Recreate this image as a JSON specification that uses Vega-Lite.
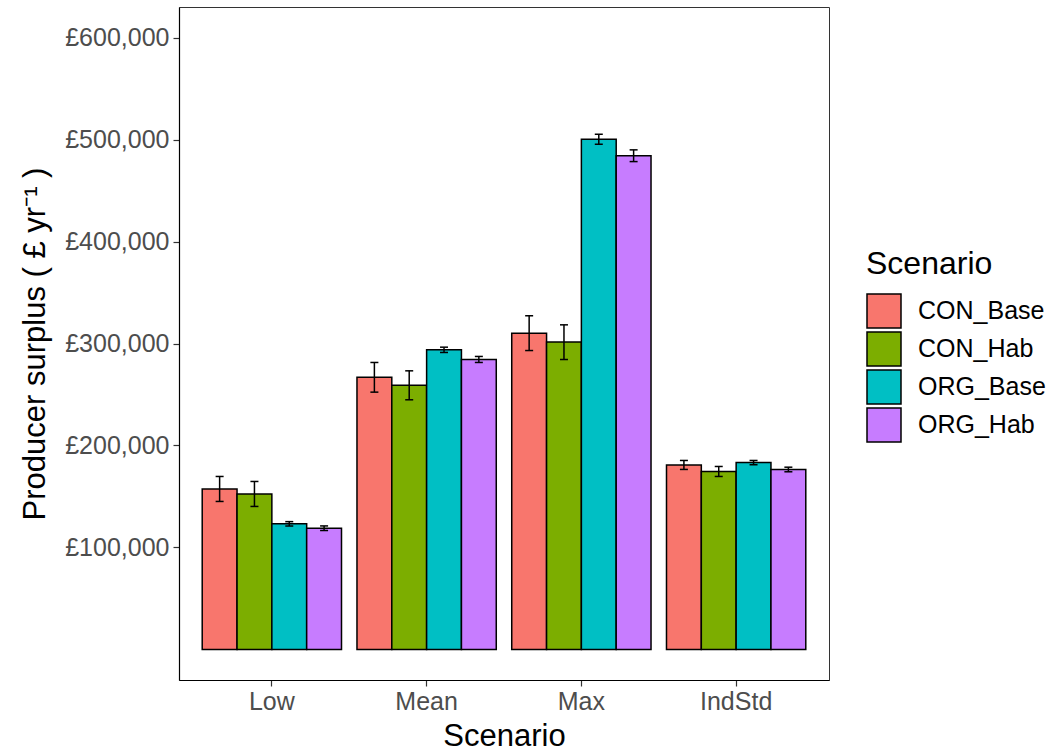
{
  "$schema": "https://vega.github.io/schema/vega-lite/v6.json",
  "width": 650,
  "height": 673,
  "autosize": {"type": "none"},
  "padding": {"left": 179, "top": 7, "right": 225, "bottom": 71},
  "background": "white",
  "config": {
    "font": "Liberation Sans",
    "view": {"stroke": "#333333", "strokeWidth": 1},
    "axis": {"grid": false, "domainColor": "black", "domainWidth": 1.2, "tickColor": "#333333", "tickWidth": 1.2, "tickSize": 6, "labelColor": "#4D4D4D", "labelFontSize": 25, "titleColor": "black", "titleFontSize": 31, "titleFontWeight": "normal"},
    "legend": {"titleFontSize": 32, "titleFontWeight": "normal", "titleColor": "black", "labelFontSize": 25, "labelColor": "black"}
  },
  "data": {
    "values": [
      {"Scenario": "Low", "Type": "CON_Base", "value": 157200, "lo": 145100, "hi": 169600},
      {"Scenario": "Low", "Type": "CON_Hab", "value": 152300, "lo": 140200, "hi": 164700},
      {"Scenario": "Low", "Type": "ORG_Base", "value": 123200, "lo": 121000, "hi": 125300},
      {"Scenario": "Low", "Type": "ORG_Hab", "value": 118900, "lo": 116600, "hi": 121100},
      {"Scenario": "Mean", "Type": "CON_Base", "value": 266800, "lo": 252300, "hi": 281400},
      {"Scenario": "Mean", "Type": "CON_Hab", "value": 259000, "lo": 244800, "hi": 273200},
      {"Scenario": "Mean", "Type": "ORG_Base", "value": 293800, "lo": 291200, "hi": 296400},
      {"Scenario": "Mean", "Type": "ORG_Hab", "value": 284300, "lo": 281400, "hi": 287300},
      {"Scenario": "Max", "Type": "CON_Base", "value": 310100, "lo": 293100, "hi": 327200},
      {"Scenario": "Max", "Type": "CON_Hab", "value": 301500, "lo": 284300, "hi": 318300},
      {"Scenario": "Max", "Type": "ORG_Base", "value": 500200, "lo": 495400, "hi": 505200},
      {"Scenario": "Max", "Type": "ORG_Hab", "value": 484200, "lo": 478400, "hi": 489900},
      {"Scenario": "IndStd", "Type": "CON_Base", "value": 180800, "lo": 176500, "hi": 185300},
      {"Scenario": "IndStd", "Type": "CON_Hab", "value": 174400, "lo": 169600, "hi": 179400},
      {"Scenario": "IndStd", "Type": "ORG_Base", "value": 183300, "lo": 181100, "hi": 185300},
      {"Scenario": "IndStd", "Type": "ORG_Hab", "value": 176500, "lo": 174200, "hi": 178700}
    ]
  },
  "encoding": {
    "x": {
      "field": "Scenario", "type": "nominal",
      "sort": ["Low", "Mean", "Max", "IndStd"],
      "scale": {"paddingInner": 0.1, "paddingOuter": 0.15},
      "title": "Scenario",
      "axis": {"labelAngle": 0, "labelPadding": 3, "titlePadding": 7}
    },
    "xOffset": {
      "field": "Type", "type": "nominal",
      "sort": ["CON_Base", "CON_Hab", "ORG_Base", "ORG_Hab"],
      "scale": {"paddingInner": 0, "paddingOuter": 0}
    }
  },
  "layer": [
    {
      "mark": {"type": "bar", "stroke": "black", "strokeWidth": 1.5},
      "encoding": {
        "y": {
          "field": "value", "type": "quantitative",
          "scale": {"domain": [-30000, 630000], "nice": false, "zero": false},
          "title": "Producer surplus ( £ yr⁻¹ )",
          "axis": {"values": [100000, 200000, 300000, 400000, 500000, 600000], "labelExpr": "'£' + format(datum.value, ',')", "labelPadding": 4, "titlePadding": 13}
        },
        "y2": {"datum": 0},
        "color": {
          "field": "Type", "type": "nominal",
          "sort": ["CON_Base", "CON_Hab", "ORG_Base", "ORG_Hab"],
          "scale": {"domain": ["CON_Base", "CON_Hab", "ORG_Base", "ORG_Hab"], "range": ["#F8766D", "#7CAE00", "#00BFC4", "#C77CFF"]},
          "title": "Scenario",
          "legend": {"orient": "none", "legendX": 687, "legendY": 242, "symbolType": "square", "symbolSize": 1156, "symbolStrokeColor": "black", "symbolStrokeWidth": 1.5, "symbolOpacity": 1, "rowPadding": -4, "labelOffset": 16, "titlePadding": 12}
        }
      }
    },
    {
      "mark": {"type": "rule", "color": "black", "strokeWidth": 1.5},
      "encoding": {
        "y": {"field": "lo", "type": "quantitative"},
        "y2": {"field": "hi"}
      }
    },
    {
      "mark": {"type": "tick", "color": "black", "thickness": 1.5, "size": 8, "opacity": 1},
      "encoding": {"y": {"field": "lo", "type": "quantitative"}}
    },
    {
      "mark": {"type": "tick", "color": "black", "thickness": 1.5, "size": 8, "opacity": 1},
      "encoding": {"y": {"field": "hi", "type": "quantitative"}}
    }
  ]
}
